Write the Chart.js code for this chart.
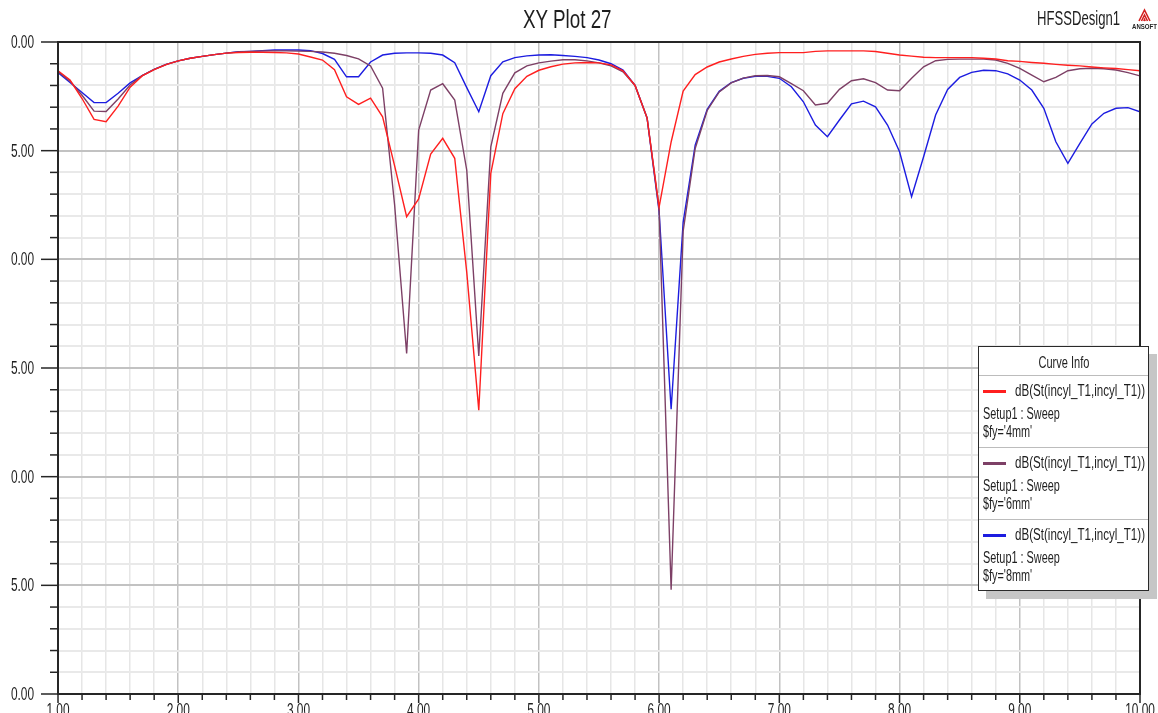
<!DOCTYPE html>
<html><head><meta charset="utf-8">
<script src="https://cdn.jsdelivr.net/npm/chart.js@4.4.0/dist/chart.umd.min.js"></script>
<style>
html,body{margin:0;padding:0;background:#fff;overflow:hidden;}
#wrap{position:relative;width:1158px;height:713px;overflow:hidden;background:#fff;}
#c{position:absolute;left:0;top:0;}
.t{position:absolute;font-family:"Liberation Sans",Arial,sans-serif;color:#1e1e1e;white-space:nowrap;line-height:1;transform-origin:0 0;}
#legend{position:absolute;left:978px;top:346px;width:171px;height:245px;box-sizing:border-box;border:1.5px solid #2a2a2a;background:#fff;box-shadow:8px 8px 0 #c6c6c6;}
#legend .sep{position:absolute;left:0;right:0;height:1.5px;background:#bcbcbc;}
#legend .sw{position:absolute;width:23px;height:3px;}
</style></head><body>
<div id="wrap">
<canvas id="c" width="1158" height="713"></canvas>
<div class="t" id="title" style="left:523px;top:6px;font-size:26.5px;transform:scaleX(0.71)">XY Plot 27</div>
<div class="t" id="design" style="left:1037px;top:8px;font-size:20px;transform:scaleX(0.655)">HFSSDesign1</div>
<svg style="position:absolute;left:1131px;top:7px" width="27" height="26" viewBox="0 0 27 26">
  <g stroke="#d42020" stroke-width="1.6" fill="none">
    <path d="M8 14 L13.5 3 L19 14"/>
    <path d="M10.5 14 L13.5 8 L16.5 14"/>
    <path d="M12.8 14 L13.5 12.5 L14.2 14"/>
  </g>
  <text x="13.5" y="22" font-family="Liberation Sans, Arial" font-size="7" font-weight="bold" fill="#222" text-anchor="middle" textLength="25" lengthAdjust="spacingAndGlyphs">ANSOFT</text>
</svg>
<div id="legend"></div>
</div>
<script>
// ---- data ----
const freqGHz = [1.0,1.1,1.2,1.3,1.4,1.5,1.6,1.7,1.8,1.9,2.0,2.1,2.2,2.3,2.4,2.5,2.6,2.7,2.8,2.9,
 3.0,3.1,3.2,3.3,3.4,3.5,3.6,3.7,3.8,3.9,4.0,4.1,4.2,4.3,4.4,4.5,4.6,4.7,4.8,4.9,
 5.0,5.1,5.2,5.3,5.4,5.5,5.6,5.7,5.8,5.9,6.0,6.1,6.2,6.3,6.4,6.5,6.6,6.7,6.8,6.9,
 7.0,7.1,7.2,7.3,7.4,7.5,7.6,7.7,7.8,7.9,8.0,8.1,8.2,8.3,8.4,8.5,8.6,8.7,8.8,8.9,
 9.0,9.1,9.2,9.3,9.4,9.5,9.6,9.7,9.8,9.9,10.0];

const s11_fy4mm = [-1.32,-1.75,-2.60,-3.56,-3.67,-2.95,-2.08,-1.56,-1.27,-1.04,
 -0.87,-0.75,-0.66,-0.58,-0.51,-0.48,-0.47,-0.47,-0.48,-0.50,
 -0.55,-0.69,-0.83,-1.27,-2.52,-2.87,-2.58,-3.44,-5.70,-8.04,
 -7.22,-5.16,-4.43,-5.35,-10.6,-16.94,-6.04,-3.30,-2.15,-1.58,
 -1.30,-1.14,-1.02,-0.96,-0.94,-0.96,-1.05,-1.33,-2.00,-3.50,
 -7.60,-4.60,-2.26,-1.50,-1.15,-0.92,-0.78,-0.66,-0.57,-0.52,
 -0.49,-0.49,-0.49,-0.43,-0.41,-0.41,-0.41,-0.41,-0.44,-0.52,
 -0.60,-0.65,-0.70,-0.72,-0.72,-0.72,-0.72,-0.75,-0.78,-0.86,
 -0.89,-0.94,-0.98,-1.03,-1.07,-1.10,-1.15,-1.19,-1.22,-1.27,-1.32];

const s11_fy6mm = [-1.36,-1.80,-2.45,-3.18,-3.20,-2.62,-1.98,-1.55,-1.26,-1.03,
 -0.87,-0.75,-0.66,-0.58,-0.51,-0.46,-0.44,-0.41,-0.41,-0.41,
 -0.42,-0.43,-0.46,-0.52,-0.62,-0.78,-1.10,-2.13,-7.50,-14.33,
 -4.05,-2.21,-1.92,-2.67,-5.90,-14.45,-4.82,-2.36,-1.42,-1.10,
 -0.96,-0.88,-0.82,-0.82,-0.87,-0.96,-1.10,-1.37,-2.00,-3.48,
 -7.70,-25.2,-8.70,-4.90,-3.15,-2.30,-1.88,-1.66,-1.55,-1.54,
 -1.60,-1.92,-2.24,-2.90,-2.82,-2.18,-1.78,-1.69,-1.87,-2.21,
 -2.24,-1.67,-1.14,-0.86,-0.80,-0.79,-0.79,-0.79,-0.83,-0.98,
 -1.21,-1.52,-1.83,-1.63,-1.32,-1.23,-1.21,-1.23,-1.29,-1.41,-1.56];

const s11_fy8mm = [-1.41,-1.86,-2.32,-2.79,-2.79,-2.36,-1.88,-1.55,-1.26,-1.03,
 -0.87,-0.75,-0.66,-0.58,-0.51,-0.45,-0.43,-0.40,-0.37,-0.37,
 -0.37,-0.40,-0.53,-0.80,-1.60,-1.60,-0.92,-0.60,-0.52,-0.50,
 -0.50,-0.52,-0.60,-0.95,-2.10,-3.21,-1.55,-0.91,-0.72,-0.64,
 -0.60,-0.59,-0.62,-0.66,-0.72,-0.83,-1.00,-1.29,-2.00,-3.50,
 -7.80,-16.9,-8.30,-4.75,-3.10,-2.27,-1.87,-1.67,-1.58,-1.58,
 -1.67,-2.06,-2.75,-3.82,-4.36,-3.59,-2.85,-2.72,-2.98,-3.82,
 -5.05,-7.12,-5.28,-3.36,-2.18,-1.63,-1.40,-1.30,-1.32,-1.47,
 -1.75,-2.21,-3.05,-4.59,-5.58,-4.66,-3.77,-3.28,-3.05,-3.02,-3.21];

const yTickValues = [0,-5,-10,-15,-20,-25,-30];
const yTickLabels = ['0.00','5.00','0.00','5.00','0.00','5.00','0.00'];
const xTickValues = [1,2,3,4,5,6,7,8,9,10];
const xTickLabels = ['1.00','2.00','3.00','4.00','5.00','6.00','7.00','8.00','9.00','10.00'];

const curveNames  = ['dB(St(incyl_T1,incyl_T1))','dB(St(incyl_T1,incyl_T1))','dB(St(incyl_T1,incyl_T1))'];
const curveSetups = ['Setup1 : Sweep','Setup1 : Sweep','Setup1 : Sweep'];
const curveParams = ["$fy='4mm'","$fy='6mm'","$fy='8mm'"];
const curveColors = ['#ff1f1f','#7d4066','#1c1ce0'];
const curveValues = [s11_fy4mm, s11_fy6mm, s11_fy8mm];

// ---- legend (HTML) ----
const lg = document.getElementById('legend');
function addText(parent, txt, left, top, size, sx){
  const d = document.createElement('div');
  d.className = 't'; d.textContent = txt;
  d.style.left = left+'px'; d.style.top = top+'px';
  d.style.fontSize = size+'px'; d.style.transform = 'scaleX('+sx+')';
  parent.appendChild(d); return d;
}
const ci = document.createElement('div');
ci.style.cssText = 'position:absolute;left:0;right:0;top:7px;text-align:center;';
ci.innerHTML = '<span class="t" style="position:relative;display:inline-block;font-size:16px;transform:scaleX(0.69);transform-origin:50% 0">Curve Info</span>';
lg.appendChild(ci);
for (let k=0;k<3;k++){
  const off = 72*k;
  const sep = document.createElement('div'); sep.className='sep'; sep.style.top=(27.5+off)+'px'; lg.appendChild(sep);
  const sw = document.createElement('div'); sw.className='sw'; sw.style.left='3.5px'; sw.style.top=(42.7+off)+'px'; sw.style.background=curveColors[k]; lg.appendChild(sw);
  addText(lg, curveNames[k], 35.5, 36.1+off, 16, 0.724);
  addText(lg, curveSetups[k], 3.5, 58.7+off, 16, 0.68);
  addText(lg, curveParams[k], 3.5, 76.5+off, 16, 0.68);
}

// ---- chart ----
const isMajorX = v => Math.abs(v - Math.round(v)) < 1e-6;
const isMajorY = v => Math.abs(v/5 - Math.round(v/5)) < 1e-6;

const framePlugin = {
  id:'framePlugin',
  afterDraw(chart){
    const {ctx, chartArea:a, scales:{x, y}} = chart;
    ctx.save();
    ctx.strokeStyle = '#262626';
    ctx.lineWidth = 1.5;
    // y ticks
    y.ticks.forEach(t => {
      const py = y.getPixelForValue(t.value);
      const len = isMajorY(t.value) ? 17 : 8;
      ctx.beginPath(); ctx.moveTo(a.left-len, py); ctx.lineTo(a.left, py); ctx.stroke();
    });
    // x ticks
    x.ticks.forEach(t => {
      const px = x.getPixelForValue(t.value);
      const len = isMajorX(t.value) ? 9 : 6;
      ctx.beginPath(); ctx.moveTo(px, a.bottom); ctx.lineTo(px, a.bottom+len); ctx.stroke();
    });
    // frame
    ctx.lineWidth = 2;
    ctx.strokeRect(a.left, a.top, a.right-a.left, a.bottom-a.top);
    // tick labels (condensed)
    ctx.fillStyle = '#1e1e1e';
    ctx.font = '18px "Liberation Sans", Arial, sans-serif';
    ctx.textAlign = 'right'; ctx.textBaseline = 'middle';
    yTickValues.forEach((v,i) => {
      const py = y.getPixelForValue(v);
      ctx.save(); ctx.translate(a.left-24, py+1); ctx.scale(0.66,1); ctx.fillText(yTickLabels[i],0,0); ctx.restore();
    });
    ctx.textAlign = 'center'; ctx.textBaseline = 'alphabetic';
    xTickValues.forEach((v,i) => {
      const px = x.getPixelForValue(v);
      ctx.save(); ctx.translate(px, a.bottom+22); ctx.scale(0.66,1); ctx.fillText(xTickLabels[i],0,0); ctx.restore();
    });
    ctx.restore();
  }
};

new Chart(document.getElementById('c'), {
  type:'line',
  data:{
    datasets: curveValues.map((vals,k) => ({
      label: curveParams[k],
      data: freqGHz.map((f,i) => ({x:f, y:vals[i]})),
      borderColor: curveColors[k],
      borderWidth: 1.4,
      pointRadius: 0,
      tension: 0,
      fill: false
    }))
  },
  options:{
    responsive:false,
    animation:false,
    devicePixelRatio:1,
    layout:{padding:{top:42,right:18,left:0,bottom:0}},
    plugins:{legend:{display:false},tooltip:{enabled:false},title:{display:false}},
    scales:{
      x:{
        type:'linear', min:1, max:10,
        ticks:{display:false, stepSize:0.2, maxTicksLimit:200, autoSkip:false},
        grid:{drawTicks:false,
          color: c => (c.tick && isMajorX(c.tick.value)) ? '#c2c2c2' : '#e6e6e6',
          lineWidth: c => (c.tick && isMajorX(c.tick.value)) ? 1.5 : 1.5},
        border:{display:false},
        afterFit: s => { s.height = 19; }
      },
      y:{
        type:'linear', min:-30, max:0,
        ticks:{display:false, stepSize:1, maxTicksLimit:200, autoSkip:false},
        grid:{drawTicks:false,
          color: c => (c.tick && isMajorY(c.tick.value)) ? '#c2c2c2' : '#e9e9e9',
          lineWidth: c => (c.tick && isMajorY(c.tick.value)) ? 2 : 2},
        border:{display:false},
        afterFit: s => { s.width = 58; }
      }
    }
  },
  plugins:[framePlugin]
});
</script>
</body></html>
